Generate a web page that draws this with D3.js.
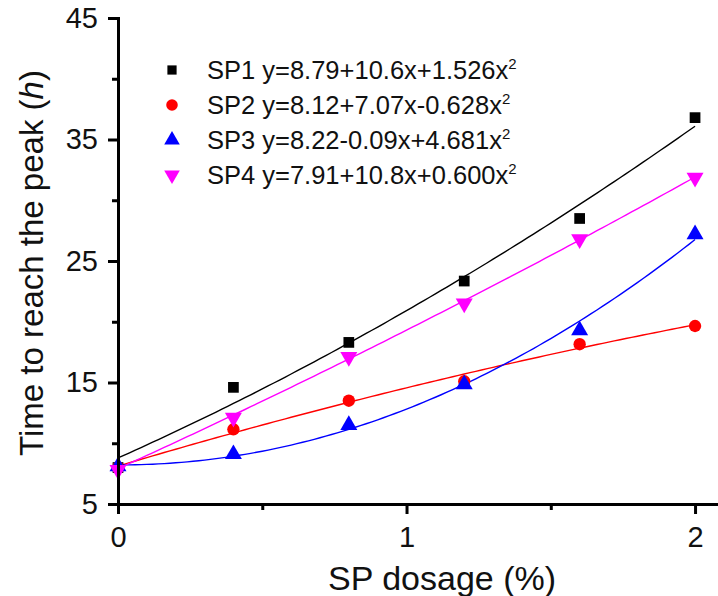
<!DOCTYPE html>
<html>
<head>
<meta charset="utf-8">
<script src="https://cdn.jsdelivr.net/npm/d3@7"></script>
<style>
  body { margin: 0; background: #fff; }
  svg { display: block; font-family: "Liberation Sans", Arial, sans-serif; }
  .axis path, .axis line { stroke: #000; stroke-width: 3; }
  .axis text { font-size: 29px; fill: #111; font-family: "Liberation Sans", Arial, sans-serif; }
  .fit { fill: none; stroke-width: 1.4; }
</style>
</head>
<body>
<svg id="chart" width="718" height="596"></svg>
<script>
"use strict";

var dosage = [0, 0.4, 0.8, 1.2, 1.6, 2.0];
var sp1_values = [8.0, 14.6, 18.3, 23.35, 28.5, 36.8];
var sp2_values = [8.0, 11.15, 13.5, 15.1, 18.15, 19.65];
var sp3_values = [8.1, 9.1, 11.5, 14.85, 19.3, 27.2];
var sp4_values = [7.8, 12.1, 17.1, 21.5, 26.8, 31.85];

var series_names = ['SP1', 'SP2', 'SP3', 'SP4'];
var fit_coefs = [
  [8.79, 10.6, 1.526],
  [8.12, 7.07, -0.628],
  [8.22, -0.09, 4.681],
  [7.91, 10.8, 0.600]
];
var fit_labels = [
  'y=8.79+10.6x+1.526x',
  'y=8.12+7.07x-0.628x',
  'y=8.22-0.09x+4.681x',
  'y=7.91+10.8x+0.600x'
];

var x_ticks = [0, 1, 2];
var x_minor = [0.5, 1.5];
var y_ticks = [5, 15, 25, 35, 45];
var y_minor = [10, 20, 30, 40];

var colors = ['#000000', '#ff0000', '#0000ff', '#ff00ff'];

function _marker(i, size) {
  var types = [d3.symbolSquare, d3.symbolCircle, d3.symbolTriangle, d3.symbolTriangle];
  return d3.symbol().type(types[i]).size(size)();
}

function draw_chart() {
  var svg = d3.select('#chart');

  var X = d3.scaleLinear().domain([0, 2.1]).range([118, 723.9]);
  var Y = d3.scaleLinear().domain([5, 45]).range([504, 18]);

  var all_values = [sp1_values, sp2_values, sp3_values, sp4_values];

  // fitted curves from the printed coefficients
  var line = d3.line()
    .x(function (d) { return X(d[0]); })
    .y(function (d) { return Y(d[1]); });
  var xs = d3.range(0, 2.0001, 0.02);
  fit_coefs.forEach(function (c, i) {
    var pts = xs.map(function (x) { return [x, c[0] + c[1] * x + c[2] * x * x]; });
    svg.append('path')
      .datum(pts)
      .attr('class', 'fit')
      .attr('stroke', colors[i])
      .attr('d', line);
  });

  // measured points
  all_values.forEach(function (vals, i) {
    svg.append('g')
      .selectAll('path')
      .data(vals)
      .enter()
      .append('path')
      .attr('d', _marker(i, i === 0 ? 115 : (i === 1 ? 120 : 125)))
      .attr('fill', colors[i])
      .attr('transform', function (d, j) {
        var t = 'translate(' + X(dosage[j]) + ',' + Y(d) + ')';
        return i === 3 ? t + ' rotate(180)' : t;
      });
  });

  // axes
  var yaxis = d3.axisLeft(Y).tickValues(y_ticks).tickSize(10).tickSizeOuter(0).tickPadding(10);
  var yminor = d3.axisLeft(Y).tickValues(y_minor).tickSize(6).tickSizeOuter(0).tickFormat('');
  var xaxis = d3.axisBottom(X).tickValues(x_ticks).tickSize(10).tickSizeOuter(0).tickPadding(12)
    .tickFormat(d3.format('d'));
  var xminor = d3.axisBottom(X).tickValues(x_minor).tickSize(6).tickSizeOuter(0).tickFormat('');

  svg.append('g').attr('class', 'axis').attr('transform', 'translate(118,0)').call(yminor);
  svg.append('g').attr('class', 'axis').attr('transform', 'translate(0,504)').call(xminor);
  svg.append('g').attr('class', 'axis').attr('transform', 'translate(118,0)').call(yaxis);
  svg.append('g').attr('class', 'axis').attr('transform', 'translate(0,504)').call(xaxis);
  svg.selectAll('.axis path').attr('stroke-linecap', 'square');

  // axis titles
  svg.append('text')
    .attr('x', 442)
    .attr('y', 590)
    .attr('text-anchor', 'middle')
    .style('font-size', '34px')
    .attr('fill', '#111')
    .text('SP dosage (%)');

  var ytitle = svg.append('text')
    .attr('transform', 'translate(43,263) rotate(-90)')
    .attr('text-anchor', 'middle')
    .style('font-size', '33px')
    .attr('fill', '#111');
  ytitle.append('tspan').text('Time to reach the peak (');
  ytitle.append('tspan').style('font-style', 'italic').text('h');
  ytitle.append('tspan').text(')');

  // legend
  var legend = svg.append('g');
  series_names.forEach(function (name, i) {
    var cy = 70 + i * 35;
    legend.append('path')
      .attr('d', _marker(i, i === 0 ? 85 : 105))
      .attr('fill', colors[i])
      .attr('transform', 'translate(172,' + cy + ')' + (i === 3 ? ' rotate(180)' : ''));
    var t = legend.append('text')
      .attr('x', 207)
      .attr('y', cy + 9)
      .style('font-size', '25.5px')
      .attr('fill', '#111');
    t.append('tspan').text(name + ' ' + fit_labels[i]);
    t.append('tspan').attr('dy', -10).style('font-size', '15px').text('2');
  });
}

draw_chart();
</script>
</body>
</html>
